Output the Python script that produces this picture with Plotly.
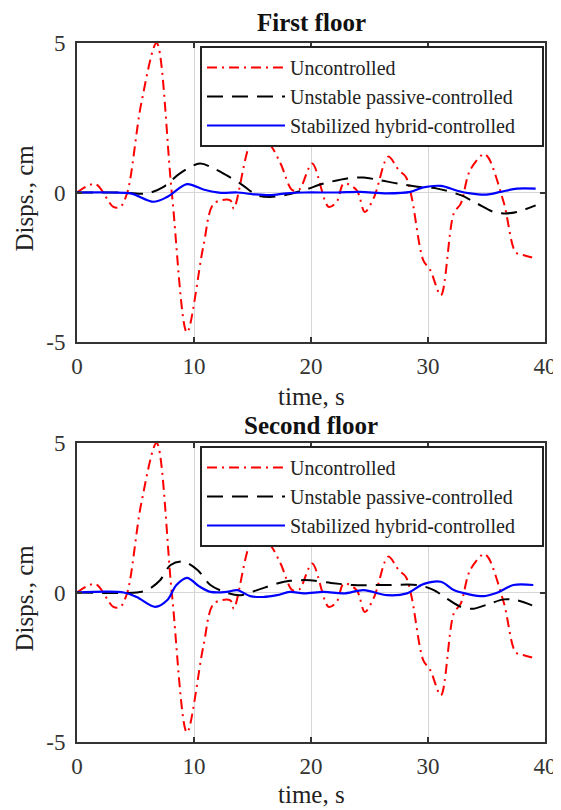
import plotly.graph_objects as go

# ---------------- data ----------------
t_unc = [0, 1.57, 3.1, 3.7, 4.3, 5.5, 6.8, 8.1, 9.4, 10.8, 11.7, 13.1, 13.4, 14.8, 15.5,
         16.5, 17.4, 18.4, 19.0, 20.1, 21.5, 22.2, 22.8, 23.9, 24.6, 25.4, 26.6, 27.5,
         28.1, 28.6, 29.6, 30.2, 31.1, 32.2, 32.8, 33.6, 34.8, 35.2, 36.5, 37.5, 38.2, 39.2]
y_unc = [0, 0.28, -0.48, -0.48, 0.0, 3.0, 5.0, 0.0, -4.68, -1.8, -0.37, -0.26, -0.54, 1.64, 1.9,
         1.6, 0.97, 0.08, 0.1, 0.97, -0.48, -0.31, 0.3, 0.08, -0.65, -0.15, 1.2, 0.75,
         0.53, -0.15, -2.27, -2.6, -3.44, -0.7, -0.37, 0.75, 1.29, 1.14, -0.37, -2.0, -2.1, -2.2]

t_pas1 = [0, 4, 6, 7.4, 8.8, 10.5, 11.7, 13.96, 15.4, 16.5, 17.7, 19.4, 21.1, 23.1, 24.5,
          25.9, 27.4, 29.1, 30.8, 32.8, 34.2, 35.6, 36.5, 37.6, 39.2]
y_pas1 = [0, 0, -0.03, 0.19, 0.64, 0.97, 0.8, 0.3, -0.09, -0.15, -0.09, 0.08, 0.3, 0.47, 0.5,
          0.41, 0.3, 0.19, 0.13, -0.09, -0.37, -0.65, -0.7, -0.65, -0.43]

t_hyb1 = [0, 3, 4.6, 6.55, 7.7, 9.4, 10.8, 12.3, 13.7, 15.1, 16.5, 17.9, 19.4, 22.2, 24.2,
          26.5, 28.5, 29.6, 31.1, 32.5, 33.6, 35.0, 36.2, 37.6, 39.2]
y_hyb1 = [0, 0, -0.03, -0.31, -0.15, 0.28, 0.1, -0.01, 0, -0.06, -0.09, -0.03, 0, 0, 0.02,
          -0.03, 0.02, 0.17, 0.22, 0.06, -0.03, -0.07, 0.02, 0.13, 0.13]

t_pas2 = [0, 5.1, 6.0, 7.1, 8.0, 9.1, 10.3, 11.4, 12.8, 14.0, 15.4, 17.1, 18.2, 19.9, 21.7,
          23.6, 26.5, 29.1, 30.5, 31.6, 32.8, 33.9, 35.3, 36.5, 37.6, 38.9]
y_pas2 = [0, 0, 0.08, 0.41, 0.92, 1.03, 0.75, 0.25, -0.01, -0.09, 0.08, 0.3, 0.39, 0.41, 0.32,
          0.25, 0.25, 0.25, 0.08, -0.2, -0.48, -0.54, -0.37, -0.23, -0.26, -0.43]

t_hyb2 = [0, 4.0, 5.1, 6.7, 7.7, 8.5, 9.4, 10.5, 11.4, 12.8, 13.7, 14.8, 15.9, 17.1, 18.2,
          19.4, 21.1, 22.8, 24.5, 26.5, 28.2, 29.6, 31.1, 32.2, 33.6, 34.8, 35.9, 37.3, 39.0]
y_hyb2 = [0, 0, -0.15, -0.48, -0.26, 0.25, 0.49, 0.19, 0.02, 0.02, 0.08, -0.12, -0.15, -0.09, 0.02,
          -0.03, 0.02, -0.03, 0.08, -0.09, -0.03, 0.28, 0.36, 0.08, -0.07, -0.12, -0.01, 0.25, 0.25]

series_names = ["Uncontrolled", "Unstable passive-controlled", "Stabilized hybrid-controlled"]
panel_titles = ["First floor", "Second floor"]
x_tickvals = [0, 10, 20, 30, 40]
x_ticktext = ["0", "10", "20", "30", "40"]
y_tickvals = [-5, 0, 5]
y_ticktext = ["-5", "0", "5"]
x_label = "time, s"
y_label = "Disps., cm"

# ---------------- figure ----------------
FONT = "Liberation Serif, Times New Roman, serif"
OFF = 8                      # page body margin of the html page
W, H = 561 - OFF, 810 - OFF


def px(x):                   # reference pixel x -> paper fraction
    return (x - OFF) / W


def py(y):                   # reference pixel y -> paper fraction
    return 1 - (y - OFF) / H


fig = go.Figure()

panels = [
    dict(xa="x", ya="y", leg="legend", pas=(t_pas1, y_pas1), hyb=(t_hyb1, y_hyb1)),
    dict(xa="x2", ya="y2", leg="legend2", pas=(t_pas2, y_pas2), hyb=(t_hyb2, y_hyb2)),
]
for p in panels:
    fig.add_trace(go.Scatter(x=t_unc, y=y_unc, mode="lines", name=series_names[0],
                             line=dict(color="#ff0000", width=2, dash="10px,5px,2px,5px",
                                       shape="spline", smoothing=0.9),
                             xaxis=p["xa"], yaxis=p["ya"], legend=p["leg"]))
    fig.add_trace(go.Scatter(x=p["pas"][0], y=p["pas"][1], mode="lines", name=series_names[1],
                             line=dict(color="#000000", width=2, dash="16px,9px", shape="spline", smoothing=0.9),
                             xaxis=p["xa"], yaxis=p["ya"], legend=p["leg"]))
    fig.add_trace(go.Scatter(x=p["hyb"][0], y=p["hyb"][1], mode="lines", name=series_names[2],
                             line=dict(color="#0000ff", width=2.2, shape="spline", smoothing=0.9),
                             xaxis=p["xa"], yaxis=p["ya"], legend=p["leg"]))

L, R = 77, 545
TOP1, BOT1 = 43, 342
TOP2, BOT2 = 443, 742
xdom = [px(L), px(R)]
ydom_top = [py(BOT1), py(TOP1)]
ydom_bot = [py(BOT2), py(TOP2)]

axis_common = dict(showline=True, linecolor="#333333", linewidth=2, mirror="ticks",
                   ticks="inside", ticklen=5, tickwidth=1.5, tickcolor="#333333",
                   showgrid=True, gridcolor="#d6d6d6", gridwidth=1, zeroline=False,
                   automargin=False,
                   tickfont=dict(family=FONT, size=23, color="#333333"))

leg_common = dict(xanchor="left", yanchor="top", bgcolor="white",
                  bordercolor="#222222", borderwidth=2,
                  orientation="h", entrywidthmode="pixels", entrywidth=247,
                  font=dict(family=FONT, size=20, color="#222222"),
                  itemwidth=78, tracegroupgap=0)

fig.update_layout(
    width=W, height=H, margin=dict(l=0, r=0, t=0, b=0, autoexpand=False),
    paper_bgcolor="white", plot_bgcolor="white",
    font=dict(family=FONT, color="#222222"),
    xaxis=dict(domain=xdom, anchor="y", range=[0, 40], tickvals=x_tickvals, ticktext=x_ticktext,
               ticklabelstandoff=2, **axis_common),
    yaxis=dict(domain=ydom_top, anchor="x", range=[-5, 5], tickvals=y_tickvals, ticktext=y_ticktext,
               ticklabelstandoff=5, **axis_common),
    xaxis2=dict(domain=xdom, anchor="y2", range=[0, 40], tickvals=x_tickvals, ticktext=x_ticktext,
                ticklabelstandoff=2, **axis_common),
    yaxis2=dict(domain=ydom_bot, anchor="x2", range=[-5, 5], tickvals=y_tickvals, ticktext=y_ticktext,
                ticklabelstandoff=5, **axis_common),
    legend=dict(x=px(200), y=py(46), **leg_common),
    legend2=dict(x=px(200), y=py(446), **leg_common),
    showlegend=True,
)

annotations = []
for title, ytop, ybot, yt, xt in [(panel_titles[0], TOP1, BOT1, 22, 396),
                                  (panel_titles[1], TOP2, BOT2, 426, 794)]:
    annotations.append(dict(text="<b>%s</b>" % title, x=px((L + R) / 2), y=py(yt),
                            xref="paper", yref="paper", showarrow=False, xanchor="center", yanchor="middle",
                            font=dict(family=FONT, size=25, color="#111111")))
    annotations.append(dict(text=x_label, x=px((L + R) / 2), y=py(xt),
                            xref="paper", yref="paper", showarrow=False, xanchor="center", yanchor="middle",
                            font=dict(family=FONT, size=25, color="#222222")))
    annotations.append(dict(text=y_label, x=px(24), y=py((ytop + ybot) / 2 + 6), textangle=-90,
                            xref="paper", yref="paper", showarrow=False, xanchor="center", yanchor="middle",
                            font=dict(family=FONT, size=25, color="#222222")))
fig.update_layout(annotations=annotations)

fig.write_html("out.html")
